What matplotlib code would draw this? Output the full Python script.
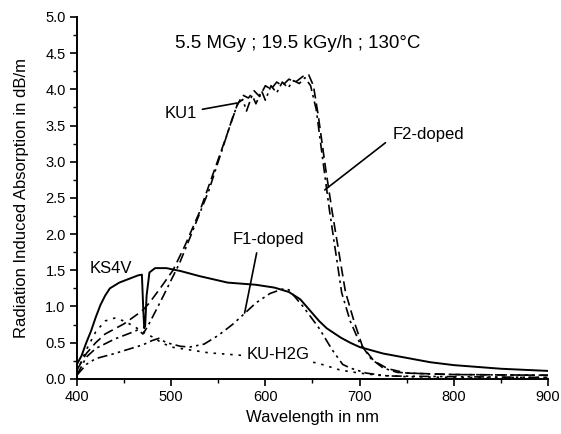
import matplotlib
matplotlib.use("Agg")
import matplotlib.pyplot as plt
from matplotlib.ticker import MultipleLocator

plt.rcParams['font.family'] = ['Liberation Sans', 'DejaVu Sans']

# KS4V (solid)
ks4v_wl = [400, 405, 410, 415, 420, 425, 430, 435, 445, 455, 465, 469, 470.5, 471.5,
           472.5, 474, 477, 483, 495, 510, 530, 560, 590, 610, 625, 637, 647, 657,
           665, 680, 690, 700, 725, 750, 775, 800, 850, 900]
ks4v_val = [0.20, 0.32, 0.50, 0.66, 0.85, 1.02, 1.15, 1.25, 1.33, 1.38, 1.43, 1.44, 0.95, 0.70,
            0.74, 1.15, 1.47, 1.53, 1.53, 1.49, 1.42, 1.33, 1.30, 1.26, 1.20, 1.10, 0.95, 0.80,
            0.70, 0.57, 0.50, 0.44, 0.35, 0.29, 0.23, 0.19, 0.14, 0.11]

# KU1 (dash-dot)
ku1_wl = [400, 410, 420, 440, 460, 465, 470, 475, 490, 509, 520, 540, 555, 565, 571,
          576, 580, 586, 590, 596, 600, 606, 612, 618, 624, 630, 636, 642, 648, 654,
          661, 668, 681, 690, 700, 712, 725, 740, 770, 800, 900]
ku1_val = [0.05, 0.30, 0.42, 0.55, 0.65, 0.68, 0.62, 0.72, 1.10, 1.60, 1.95, 2.60, 3.20, 3.60, 3.81,
           3.86, 3.70, 3.92, 3.80, 3.98, 3.85, 4.05, 3.95, 4.10, 4.02, 4.12, 4.08, 4.16, 4.05, 3.72,
           3.02, 2.33, 1.19, 0.80, 0.50, 0.28, 0.15, 0.09, 0.07, 0.06, 0.05]

# F2-doped (dashed)
f2_wl = [400, 410, 420, 430, 450, 465, 470, 477, 490, 502, 515, 530, 545, 560, 570,
         576, 582, 588, 594, 600, 606, 612, 618, 625, 632, 640, 646, 651, 656, 664,
         671, 685, 694, 703, 715, 730, 750, 800, 900]
f2_val = [0.12, 0.35, 0.50, 0.62, 0.76, 0.90, 0.95, 1.05, 1.28, 1.50, 1.85, 2.30, 2.85, 3.40, 3.78,
          3.92, 3.88, 3.98, 3.90, 4.05, 4.00, 4.10, 4.05, 4.14, 4.10, 4.18, 4.20, 4.05, 3.65, 2.90,
          2.30, 1.20, 0.80, 0.45, 0.25, 0.14, 0.08, 0.06, 0.05]

# F1-doped (dash-dot-dot)
f1_wl = [400, 410, 420, 440, 460, 470, 480, 487, 495, 510, 520, 535, 550, 565, 576,
         590, 605, 618, 625, 640, 657, 671, 682, 690, 707, 730, 800, 900]
f1_val = [0.05, 0.20, 0.28, 0.35, 0.43, 0.47, 0.53, 0.56, 0.50, 0.45, 0.44, 0.48, 0.60, 0.75, 0.88,
          1.05, 1.18, 1.24, 1.23, 1.00, 0.70, 0.40, 0.20, 0.15, 0.08, 0.04, 0.03, 0.02]

# KU-H2G (dotted)
kuh2g_wl = [400, 410, 420, 430, 440, 450, 460, 470, 480, 490, 500, 520, 540, 560,
            580, 600, 630, 655, 680, 700, 720, 750, 800, 900]
kuh2g_val = [0.10, 0.40, 0.65, 0.80, 0.84, 0.80, 0.73, 0.65, 0.58, 0.50, 0.44, 0.40, 0.36, 0.34,
             0.32, 0.30, 0.27, 0.22, 0.12, 0.08, 0.05, 0.03, 0.02, 0.02]

x_ticks = [400, 500, 600, 700, 800, 900]
y_ticks = [0.0, 0.5, 1.0, 1.5, 2.0, 2.5, 3.0, 3.5, 4.0, 4.5, 5.0]

fig = plt.figure(figsize=(5.61, 4.34), dpi=100)
ax = fig.add_axes([0.137, 0.127, 0.84, 0.834])

lw = 1.2
ax.plot(ks4v_wl, ks4v_val, color='black', lw=1.4, linestyle='-')
ax.plot(ku1_wl, ku1_val, color='black', lw=lw, linestyle=(0, (6, 2.5, 1.5, 2.5)))
ax.plot(f2_wl, f2_val, color='black', lw=lw, linestyle=(0, (6, 3)))
ax.plot(f1_wl, f1_val, color='black', lw=lw, linestyle=(0, (6, 2.5, 1.5, 2.5, 1.5, 2.5)))
ax.plot(kuh2g_wl, kuh2g_val, color='black', lw=lw, linestyle=(0, (1.5, 3.5)))

ax.set_xlim(400, 900)
ax.set_ylim(0, 5.0)
ax.set_xticks(x_ticks)
ax.set_xticklabels([str(v) for v in x_ticks])
ax.set_yticks(y_ticks)
ax.set_yticklabels([f"{v:.1f}" for v in y_ticks])
ax.xaxis.set_minor_locator(MultipleLocator(50))
ax.yaxis.set_minor_locator(MultipleLocator(0.25))
ax.tick_params(which='major', direction='out', length=5, width=1.2, labelsize=10.5, pad=3)
ax.tick_params(which='minor', direction='out', length=3, width=1.0)

for s in ['top', 'right']:
    ax.spines[s].set_visible(False)
for s in ['left', 'bottom']:
    ax.spines[s].set_linewidth(1.4)

ax.set_xlabel("Wavelength in nm", fontsize=12, labelpad=4)
ax.set_ylabel("Radiation Induced Absorption in dB/m", fontsize=12, labelpad=12)

ax.text(634, 4.63, "5.5 MGy ; 19.5 kGy/h ; 130°C", fontsize=13.5, ha='center', va='center')

arrow = dict(arrowstyle='-', color='black', lw=1.2)
ax.annotate("KU1", xy=(569.7, 3.81), xytext=(493, 3.67), fontsize=12,
            va='center', ha='left', arrowprops=dict(arrow, shrinkA=2, shrinkB=0))
ax.annotate("F2-doped", xy=(663, 2.61), xytext=(735, 3.38), fontsize=12,
            va='center', ha='left', arrowprops=dict(arrow, shrinkA=4, shrinkB=0,
                                                   relpos=(0, 0.3)))
ax.annotate("F1-doped", xy=(578, 0.91), xytext=(565.4, 1.92), fontsize=12,
            va='center', ha='left', arrowprops=dict(arrow, shrinkA=2, shrinkB=0,
                                                   relpos=(0.35, 0)))
ax.text(413.8, 1.53, "KS4V", fontsize=12, ha='left', va='center')
ax.text(580, 0.33, "KU-H2G", fontsize=12, ha='left', va='center',
        bbox=dict(facecolor='white', edgecolor='none', pad=2), zorder=5)

fig.savefig("out.png", dpi=100)
